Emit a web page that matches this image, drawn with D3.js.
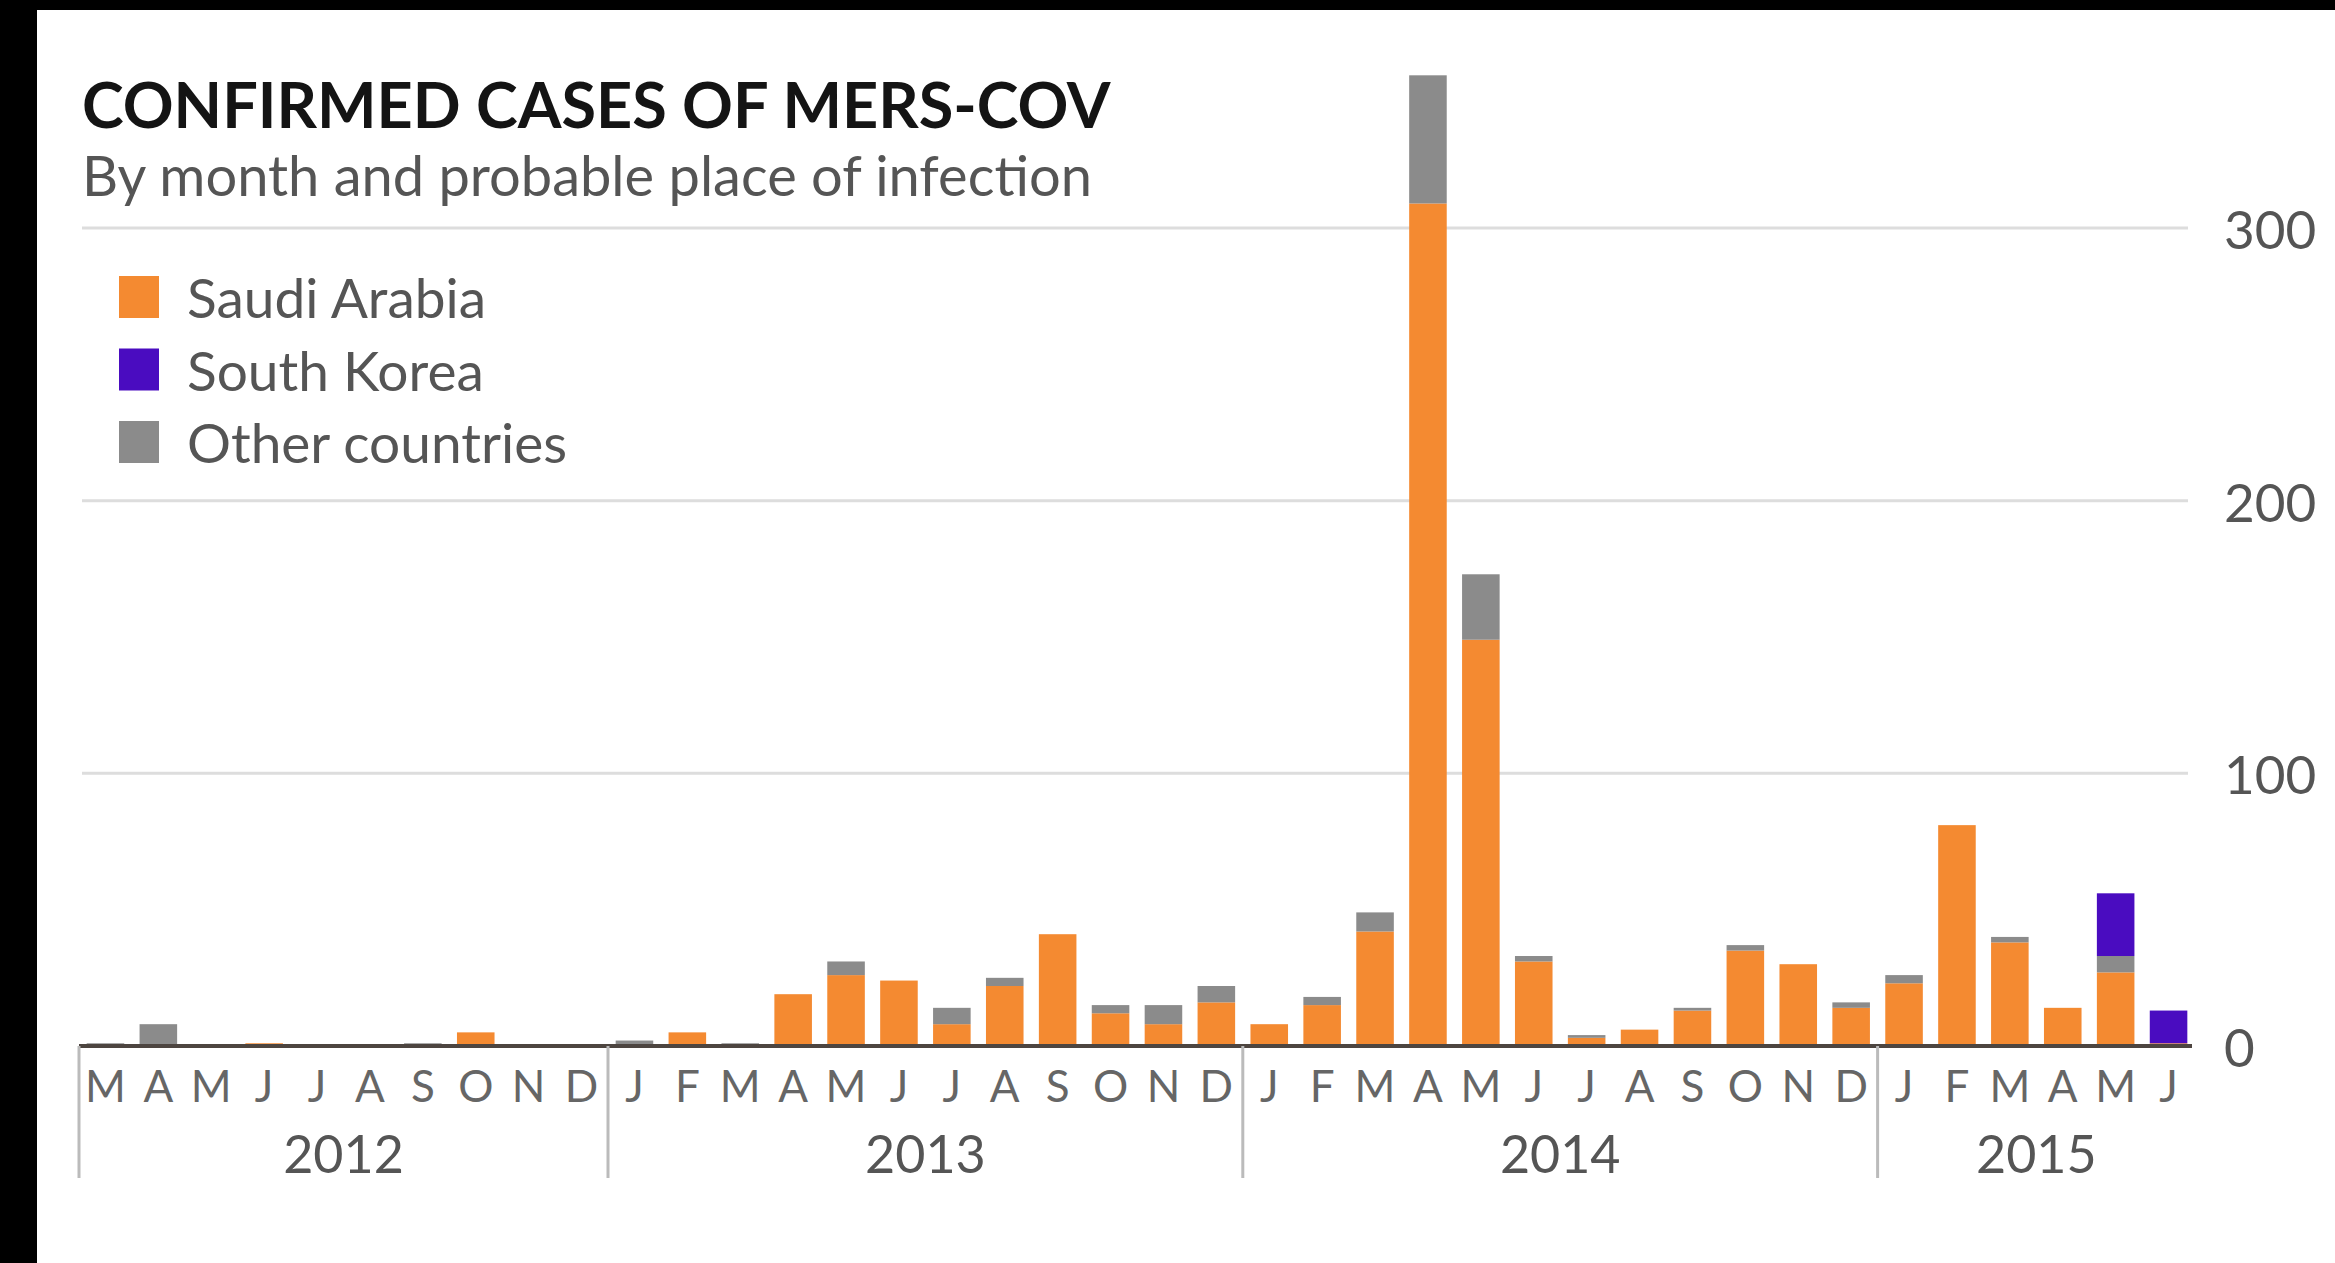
<!DOCTYPE html>
<html>
<head>
<meta charset="utf-8">
<script src="https://cdn.jsdelivr.net/npm/d3@7"></script>
<style>
  body { margin: 0; background: #fff; }
  svg { display: block; }
  text { font-family: Lato, "Open Sans", sans-serif; }
</style>
</head>
<body>
<div id="chart"></div>
<script>
// months shown on the axis, March 2012 to June 2015
var months = [
  "2012-03", "2012-04", "2012-05", "2012-06", "2012-07", "2012-08", "2012-09", "2012-10", "2012-11", "2012-12",
  "2013-01", "2013-02", "2013-03", "2013-04", "2013-05", "2013-06", "2013-07", "2013-08", "2013-09", "2013-10", "2013-11", "2013-12",
  "2014-01", "2014-02", "2014-03", "2014-04", "2014-05", "2014-06", "2014-07", "2014-08", "2014-09", "2014-10", "2014-11", "2014-12",
  "2015-01", "2015-02", "2015-03", "2015-04", "2015-05", "2015-06"
];

// cases by probable place of infection
var saudi = [0, 0, 0, 1, 0, 0, 0, 5, 0, 0,
  0, 5, 0, 19, 26, 24, 8, 22, 41, 12, 8, 16,
  8, 15, 42, 309, 149, 31, 3, 6, 13, 35, 30, 14,
  23, 81, 38, 14, 27, 1];
var other = [1, 8, 0, 0, 0, 0, 1, 0, 0, 0,
  2, 0, 1, 0, 5, 0, 6, 3, 0, 3, 7, 6,
  0, 3, 7, 47, 24, 2, 1, 0, 1, 2, 0, 2,
  3, 0, 2, 0, 6, 0];
var korea = [0, 0, 0, 0, 0, 0, 0, 0, 0, 0,
  0, 0, 0, 0, 0, 0, 0, 0, 0, 0, 0, 0,
  0, 0, 0, 0, 0, 0, 0, 0, 0, 0, 0, 0,
  0, 0, 0, 0, 23, 12];

var years = ["2012", "2013", "2014", "2015"];
var yTicks = [0, 100, 200, 300];

var seriesKeys = ["saudi", "other", "korea"];   // stacking order, bottom to top
var legendKeys = ["saudi", "korea", "other"];
var legendLabels = ["Saudi Arabia", "South Korea", "Other countries"];
var colors = { saudi: "#f48a31", korea: "#4a0cc0", other: "#8b8b8b" };

var width = 2335, height = 1263;

var svg = d3.select("#chart")
    .append("svg")
    .attr("width", width)
    .attr("height", height);

svg.append("rect").attr("width", width).attr("height", height).attr("fill", "#fff");
// black frame of the original picture
svg.append("rect").attr("width", width).attr("height", 10).attr("fill", "#000");
svg.append("rect").attr("width", 37).attr("height", height).attr("fill", "#000");

var rows = months.map(function(m, i) {
    return { month: m, saudi: saudi[i], other: other[i], korea: korea[i] };
});

var x = d3.scaleBand()
    .domain(months)
    .range([79, 2195])
    .paddingInner(0.29)
    .paddingOuter(0.145);

var y = d3.scaleLinear()
    .domain([0, 300])
    .range([1046, 228]);

var cellStart = function(m) { return x(m) - (x.step() - x.bandwidth()) / 2; };

// gridlines
svg.append("g")
    .selectAll("line")
    .data(yTicks.filter(function(d) { return d > 0; }))
    .join("line")
    .attr("x1", 82)
    .attr("x2", 2188)
    .attr("y1", function(d) { return y(d); })
    .attr("y2", function(d) { return y(d); })
    .attr("stroke", "#dddddd")
    .attr("stroke-width", 3);

// y labels on the right
svg.append("g")
    .selectAll("text")
    .data(yTicks)
    .join("text")
    .attr("x", 2224)
    .attr("y", function(d) { return y(d) + 21; })
    .attr("font-size", 53)
    .attr("fill", "#555")
    .text(function(d) { return d; });

// stacked bars
var stack = d3.stack().keys(seriesKeys)(rows);

svg.append("g")
    .selectAll("g")
    .data(stack)
    .join("g")
    .attr("fill", function(s) { return colors[s.key]; })
    .selectAll("rect")
    .data(function(s) { return s; })
    .join("rect")
    .attr("x", function(d) { return x(d.data.month); })
    .attr("width", x.bandwidth())
    .attr("y", function(d) { return y(d[1]); })
    .attr("height", function(d) { return y(d[0]) - y(d[1]); });

// baseline
svg.append("line")
    .attr("x1", 79)
    .attr("x2", 2192)
    .attr("y1", y(0))
    .attr("y2", y(0))
    .attr("stroke", "#4d4540")
    .attr("stroke-width", 4);

// month letters
var parse = d3.timeParse("%Y-%m");
var monthLetter = function(m) { return d3.timeFormat("%b")(parse(m)).charAt(0); };

svg.append("g")
    .selectAll("text")
    .data(months)
    .join("text")
    .attr("x", function(m) { return x(m) + x.bandwidth() / 2; })
    .attr("y", 1102)
    .attr("text-anchor", "middle")
    .attr("font-size", 44)
    .attr("fill", "#666")
    .text(monthLetter);

// year separators and labels
var yearSpans = years.map(function(yr) {
    var ms = months.filter(function(m) { return m.slice(0, 4) === yr; });
    return { year: yr, x0: cellStart(ms[0]), x1: cellStart(ms[ms.length - 1]) + x.step() };
});

svg.append("g")
    .selectAll("line")
    .data(yearSpans)
    .join("line")
    .attr("x1", function(d) { return d.x0; })
    .attr("x2", function(d) { return d.x0; })
    .attr("y1", y(0))
    .attr("y2", 1178)
    .attr("stroke", "#bbbbbb")
    .attr("stroke-width", 3);

svg.append("g")
    .selectAll("text")
    .data(yearSpans)
    .join("text")
    .attr("x", function(d) { return (d.x0 + d.x1) / 2; })
    .attr("y", 1173)
    .attr("text-anchor", "middle")
    .attr("font-size", 52)
    .attr("fill", "#555")
    .text(function(d) { return d.year; });

// title
svg.append("text")
    .attr("x", 82)
    .attr("y", 128)
    .attr("font-size", 63)
    .attr("font-weight", "bold")
    .attr("fill", "#141414")
    .text("CONFIRMED CASES OF MERS-COV");

svg.append("text")
    .attr("x", 82)
    .attr("y", 196)
    .attr("font-size", 56)
    .attr("fill", "#555")
    .text("By month and probable place of infection");

// legend
var legend = svg.append("g")
    .selectAll("g")
    .data(legendKeys)
    .join("g")
    .attr("transform", function(d, i) { return "translate(119," + (318 + i * 72.5) + ")"; });

legend.append("rect")
    .attr("y", -42)
    .attr("width", 40)
    .attr("height", 42)
    .attr("fill", function(d) { return colors[d]; });

legend.append("text")
    .attr("x", 68)
    .attr("font-size", 55)
    .attr("fill", "#555")
    .text(function(d, i) { return legendLabels[i]; });
</script>
</body>
</html>
